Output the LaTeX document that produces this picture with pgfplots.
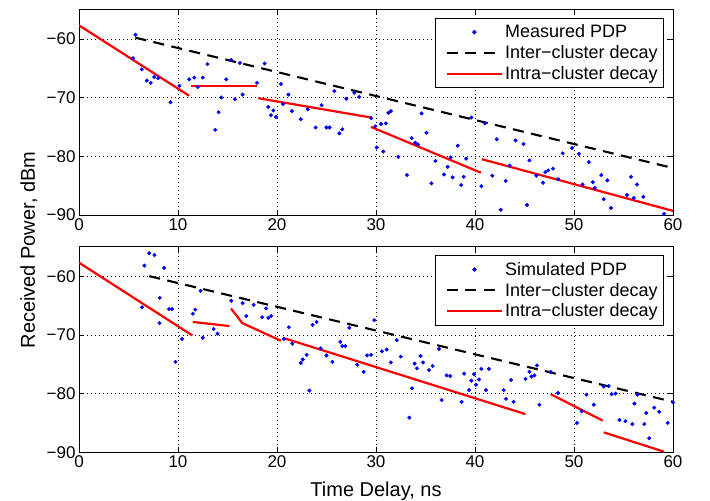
\documentclass[border=0pt]{standalone}
\usepackage{pgfplots}
\pgfplotsset{compat=1.18}
\usepackage{fontspec}
\setmainfont{Liberation Sans}
\begin{document}
\begin{tikzpicture}[x=1pt,y=1pt]
\path[use as bounding box] (0,0) rectangle (710,501);
\pgfplotsset{
 mystyle/.style={
  scale only axis, width=594pt, height=205.5pt,
  xmin=0,xmax=60,ymin=-90,ymax=-55,
  xtick={0,10,20,30,40,50,60}, ytick={-90,-80,-70,-60},
  xticklabels={0,10,20,30,40,50,60},
  yticklabels={−90,−80,−70,−60},
  tick label style={font=\fontsize{17}{20}\selectfont},
  grid=major,
  major grid style={black, line width=0.6pt, dash pattern=on 0.6pt off 3.4pt},
  axis line style={black, line width=0.8pt},
  major tick length=5pt,
  tick style={black, line width=0.6pt},
  legend style={at={(1,1)}, anchor=north east, xshift=-9pt, yshift=-8.5pt, font=\fontsize{18}{21}\selectfont, draw=black, line width=0.8pt, fill=white, inner xsep=4pt, inner ysep=4.5pt, row sep=2.3pt},
  legend cell align=left,
  legend image code/.code={\path (-6pt,0pt); \draw[mark repeat=2,mark phase=2,##1] plot coordinates {(0pt,0pt)(27.5pt,0pt)(55pt,0pt)};},
  pts/.style={only marks, mark=*, mark size=1.8pt, blue},
  inter/.style={black, line width=2.1pt, dash pattern=on 11pt off 7.5pt},
  intra/.style={red, line width=2.2pt},
 },
}
\begin{axis}[mystyle, at={(79pt,286pt)}, anchor=south west]
\addplot[pts] table {
5.7 -59.3
5.46 -63.3
6.34 -65.2
6.85 -67.1
7.25 -67.5
7.59 -66.5
8.0 -66.7
9.24 -70.8
10.15 -68.0
11.13 -66.9
11.64 -66.6
12.0 -68.2
12.5 -66.6
12.98 -64.3
13.76 -75.5
14.1 -72.5
14.37 -70.0
14.87 -66.9
15.38 -63.6
15.75 -70.3
16.26 -64.1
16.53 -69.5
17.98 -67.5
18.75 -64.2
19.12 -71.6
19.39 -73.0
19.63 -72.2
19.9 -73.3
20.4 -67.7
20.6 -71.1
21.15 -69.5
21.5 -72.3
22.4 -73.7
23.1 -72.0
23.9 -75.1
24.5 -71.3
25.0 -75.1
25.3 -75.1
25.8 -68.9
26.3 -76.1
26.6 -75.4
27.0 -70.2
27.8 -69.2
28.3 -69.9
29.5 -73.5
29.93 -74.9
30.07 -78.5
30.5 -74.5
30.74 -79.2
31.0 -74.4
31.25 -72.6
31.5 -72.3
32.26 -80.1
33.13 -83.2
33.6 -76.9
33.97 -77.7
34.24 -78.0
34.6 -72.7
35.1 -76.0
35.6 -84.6
36.0 -80.8
36.87 -83.1
37.24 -81.8
37.54 -80.2
37.74 -83.6
38.25 -78.2
38.6 -84.9
38.86 -83.5
39.1 -80.4
39.63 -73.4
40.64 -85.1
41.0 -74.4
41.75 -83.3
42.2 -77.1
42.6 -89.1
43.1 -84.2
43.5 -81.6
44.1 -77.3
44.9 -77.9
45.25 -88.3
45.5 -80.7
46.2 -83.3
46.87 -84.5
47.1 -82.7
47.4 -82.4
47.88 -82.1
48.4 -83.9
48.86 -79.5
49.8 -78.6
50.5 -79.6
50.87 -84.8
51.5 -81.0
51.9 -84.4
52.1 -85.4
52.76 -83.2
53.0 -87.3
53.37 -84.1
53.74 -88.8
55.35 -86.6
55.76 -83.5
56.03 -87.1
56.36 -84.8
57.0 -86.9
59.1 -89.8
};
\addlegendentry{Measured PDP}
\addplot[inter] coordinates {(5.7,-59.8) (60,-82.0)};
\addlegendentry{Inter−cluster decay}
\addplot[intra] coordinates {(0,-57.7) (11.13,-69.7)};
\addlegendentry{Intra−cluster decay}
\addplot[intra, forget plot] coordinates {(11.3,-68.0) (18.0,-68.0)};
\addplot[intra, forget plot] coordinates {(18.1,-70.1) (29.5,-73.4)};
\addplot[intra, forget plot] coordinates {(29.5,-75.0) (40.6,-82.8)};
\addplot[intra, forget plot] coordinates {(40.7,-80.5) (60,-89.3)};
\end{axis}
\begin{axis}[mystyle, at={(79pt,48.7pt)}, anchor=south west]
\addplot[pts] table {
6.6 -58.2
6.37 -65.3
7.1 -56.1
7.62 -56.4
8.16 -63.7
8.13 -68.0
8.6 -58.6
9.1 -65.6
9.4 -65.6
9.75 -74.6
10.4 -70.7
11.5 -66.4
11.74 -65.7
12.28 -62.5
12.5 -70.5
13.6 -69.0
14.0 -69.8
15.38 -64.2
16.53 -64.6
16.9 -66.8
17.64 -64.9
18.5 -67.0
18.9 -65.5
19.12 -67.1
19.4 -66.8
20.7 -70.7
21.2 -68.7
21.55 -71.5
22.4 -74.8
22.6 -74.2
23.0 -73.4
23.27 -79.5
23.6 -68.3
24.0 -67.8
24.4 -72.3
25.0 -73.5
25.6 -74.6
26.4 -71.2
26.6 -71.9
26.9 -71.9
27.3 -68.8
28.1 -75.1
28.75 -76.3
29.1 -73.5
29.5 -73.4
29.83 -67.5
30.6 -72.8
31.08 -72.5
31.5 -74.7
32.1 -70.9
32.5 -73.7
33.37 -84.1
33.64 -79.1
33.9 -74.9
34.14 -75.7
34.5 -73.6
34.75 -74.7
35.35 -76.0
35.72 -75.3
36.36 -72.4
36.63 -81.1
37.14 -76.9
37.5 -77.0
38.65 -81.4
38.9 -76.6
39.4 -79.4
39.63 -77.8
39.9 -76.7
40.1 -78.5
40.4 -77.6
40.64 -75.8
41.1 -79.4
41.4 -75.8
42.9 -79.4
43.13 -80.9
43.64 -77.7
43.9 -81.4
45.1 -77.5
45.5 -76.3
45.7 -77.1
46.0 -76.9
46.26 -75.2
46.5 -81.9
47.64 -76.3
48.38 -79.9
50.3 -85.0
50.77 -83.0
51.25 -80.2
52.0 -81.9
53.0 -78.8
53.5 -78.7
53.8 -80.1
54.2 -80.0
54.6 -84.5
55.2 -84.7
55.9 -85.2
56.1 -81.7
56.4 -80.2
57.1 -85.2
57.3 -83.3
57.6 -87.6
58.1 -82.4
58.6 -83.1
59.46 -85.0
60.0 -81.5
};
\addlegendentry{Simulated PDP}
\addplot[inter] coordinates {(7.1,-60.0) (60,-81.4)};
\addlegendentry{Inter−cluster decay}
\addplot[intra] coordinates {(0,-57.7) (11.45,-70.1)};
\addlegendentry{Intra−cluster decay}
\addplot[intra, forget plot] coordinates {(11.5,-67.8) (15.2,-68.5)};
\addplot[intra, forget plot] coordinates {(15.35,-65.5) (16.5,-68.0) (20.4,-71.0)};
\addplot[intra, forget plot] coordinates {(20.6,-70.5) (45.1,-83.5)};
\addplot[intra, forget plot] coordinates {(47.64,-80.1) (52.9,-84.6)};
\addplot[intra, forget plot] coordinates {(53.0,-86.6) (59.1,-89.9)};
\end{axis}
\node[rotate=90, anchor=base, font=\fontsize{20}{24}\selectfont] at (35,251) {Received Power, dBm};
\node[anchor=base, font=\fontsize{20}{24}\selectfont] at (376,4.3) {Time Delay, ns};
\end{tikzpicture}
\end{document}
